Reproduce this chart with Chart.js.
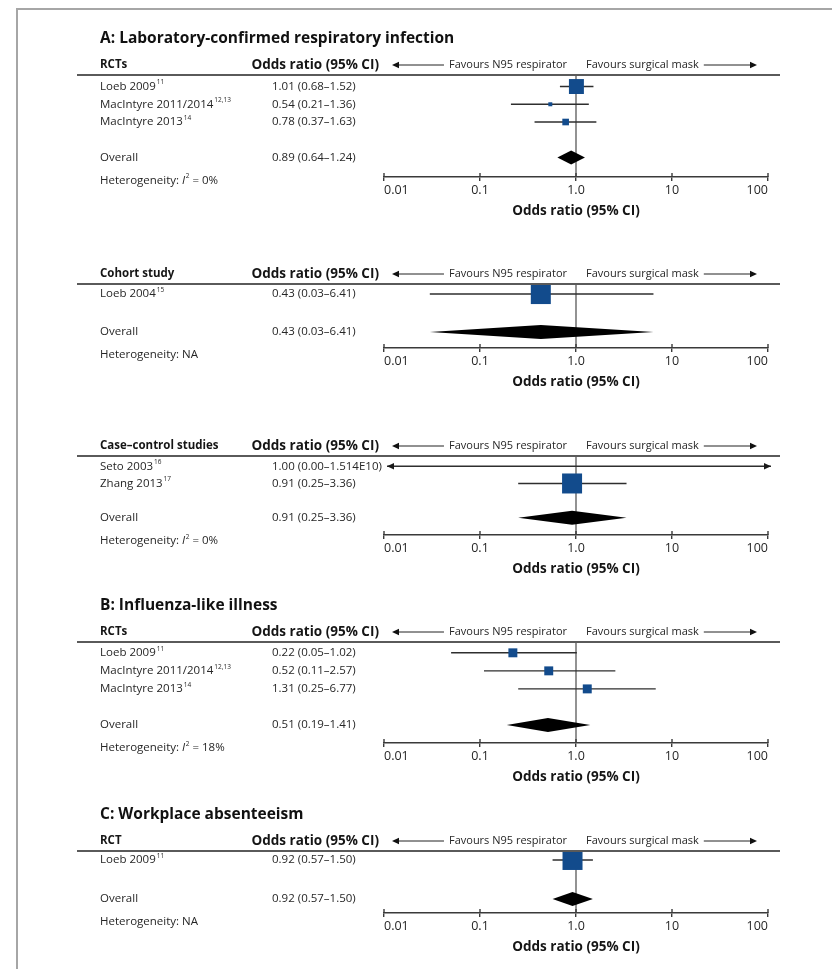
<!DOCTYPE html>
<html>
<head>
<meta charset="utf-8">
<script src="https://cdn.jsdelivr.net/npm/chart.js@4.4.1/dist/chart.umd.min.js"></script>
<style>
  html, body { margin: 0; padding: 0; background: #fff; }
  body { width: 832px; height: 969px; position: relative; overflow: hidden; }
  #frame { position: absolute; left: 16px; top: 8px; right: -10px; bottom: -10px;
           border-left: 2px solid #a6a6a6; border-top: 2px solid #a6a6a6; }
  .panel { position: absolute; left: 0; width: 832px; }
</style>
</head>
<body>
<div id="frame"></div>
<div class="panel" id="p0"><canvas></canvas></div>
<div class="panel" id="p1"><canvas></canvas></div>
<div class="panel" id="p2"><canvas></canvas></div>
<div class="panel" id="p3"><canvas></canvas></div>
<div class="panel" id="p4"><canvas></canvas></div>
<script>
// x axis
const oddsTicks = [0.01, 0.1, 1, 10, 100];
const tickLabels = ['0.01', '0.1', '1.0', '10', '100'];

// A: laboratory-confirmed respiratory infection, RCTs
const labRctNames = ['Loeb 2009', 'MacIntyre 2011/2014', 'MacIntyre 2013'];
const labRctRefs = ['11', '12,13', '14'];
const labRctOR = [1.01, 0.54, 0.78];
const labRctLow = [0.68, 0.21, 0.37];
const labRctHigh = [1.52, 1.36, 1.63];
const labRctWeight = [56, 4, 11];
const labRctOverall = [0.89, 0.64, 1.24];

// A: cohort study
const cohortNames = ['Loeb 2004'];
const cohortRefs = ['15'];
const cohortOR = [0.43];
const cohortLow = [0.03];
const cohortHigh = [6.41];
const cohortWeight = [100];
const cohortOverall = [0.43, 0.03, 6.41];

// A: case-control studies
const caseNames = ['Seto 2003', 'Zhang 2013'];
const caseRefs = ['16', '17'];
const caseOR = [1.00, 0.91];
const caseLow = [0.00, 0.25];
const caseHigh = [1.514e10, 3.36];
const caseWeight = [0, 100];
const caseOverall = [0.91, 0.25, 3.36];

// B: influenza-like illness, RCTs
const iliNames = ['Loeb 2009', 'MacIntyre 2011/2014', 'MacIntyre 2013'];
const iliRefs = ['11', '12,13', '14'];
const iliOR = [0.22, 0.52, 1.31];
const iliLow = [0.05, 0.11, 0.25];
const iliHigh = [1.02, 2.57, 6.77];
const iliWeight = [20, 20, 20];
const iliOverall = [0.51, 0.19, 1.41];

// C: workplace absenteeism, RCT
const absNames = ['Loeb 2009'];
const absRefs = ['11'];
const absOR = [0.92];
const absLow = [0.57];
const absHigh = [1.50];
const absWeight = [100];
const absOverall = [0.92, 0.57, 1.50];

const panels = [
  { title: 'A: Laboratory-confirmed respiratory infection', group: 'RCTs', names: labRctNames, refs: labRctRefs,
    or: labRctOR, low: labRctLow, high: labRctHigh, weight: labRctWeight, overall: labRctOverall, i2: 0 },
  { title: '', group: 'Cohort study', names: cohortNames, refs: cohortRefs,
    or: cohortOR, low: cohortLow, high: cohortHigh, weight: cohortWeight, overall: cohortOverall, i2: null },
  { title: '', group: 'Case–control studies', names: caseNames, refs: caseRefs,
    or: caseOR, low: caseLow, high: caseHigh, weight: caseWeight, overall: caseOverall, i2: 0 },
  { title: 'B: Influenza-like illness', group: 'RCTs', names: iliNames, refs: iliRefs,
    or: iliOR, low: iliLow, high: iliHigh, weight: iliWeight, overall: iliOverall, i2: 18 },
  { title: 'C: Workplace absenteeism', group: 'RCT', names: absNames, refs: absRefs,
    or: absOR, low: absLow, high: absHigh, weight: absWeight, overall: absOverall, i2: null }
];

// page placement of each panel: div top, header rule, axis line, row range
const placement = [
  { top: 20, line: 75, axis: 177, yMin: -0.65, yMax: 5.1 },
  { top: 250, line: 284, axis: 348, yMin: -0.53, yMax: 2.84 },
  { top: 420, line: 456, axis: 535, yMin: -0.6, yMax: 4.0 },
  { top: 585, line: 642, axis: 743, yMin: -0.6, yMax: 5.0 },
  { top: 793, line: 851, axis: 913, yMin: -0.46, yMax: 2.72 }
];

const FAMILY = '"Open Sans", "Noto Sans", sans-serif';
const AXIS_H = 46;
const TEXT = '#262626';
const font = (size, style) => (style ? style + ' ' : '') + size + 'px ' + FAMILY;

function fmt(v) {
  if (v >= 1e6) return v.toExponential(3).toUpperCase().replace('E+', 'E');
  return v.toFixed(2);
}
function ciText(or, lo, hi) {
  return fmt(or) + ' (' + fmt(lo) + '–' + fmt(hi) + ')';
}

function segment(ctx, x1, y1, x2, y2) {
  ctx.beginPath();
  ctx.moveTo(x1, y1);
  ctx.lineTo(x2, y2);
  ctx.stroke();
}
function arrowHead(ctx, x, y, dir) {
  ctx.beginPath();
  ctx.moveTo(x, y);
  ctx.lineTo(x - dir * 7, y - 3.2);
  ctx.lineTo(x - dir * 7, y + 3.2);
  ctx.closePath();
  ctx.fill();
}
function textWithRef(ctx, text, ref, x, y) {
  ctx.font = font(11.5);
  ctx.fillText(text, x, y);
  const w = ctx.measureText(text).width;
  ctx.font = font(6.5);
  ctx.fillText(ref, x + w + 1, y - 4);
}
function heterogeneity(ctx, i2, x, y) {
  ctx.font = font(11.5);
  const lead = 'Heterogeneity: ';
  ctx.fillText(lead, x, y);
  let cx = x + ctx.measureText(lead).width;
  if (i2 === null) {
    ctx.fillText('NA', cx, y);
    return;
  }
  ctx.font = font(11.5, 'italic');
  ctx.fillText('I', cx, y);
  cx += ctx.measureText('I').width + 0.5;
  ctx.font = font(6.5);
  ctx.fillText('2', cx, y - 4);
  cx += ctx.measureText('2').width;
  ctx.font = font(11.5);
  ctx.fillText(' = ' + i2 + '%', cx, y);
}

function forestPlugin(p) {
  const n = p.names.length;
  return {
    id: 'forest',
    beforeDatasetsDraw(chart) {
      const { ctx, chartArea: ca, scales: { x, y } } = chart;
      ctx.save();
      // line of no effect
      const x1 = x.getPixelForValue(1);
      ctx.strokeStyle = '#4a4a4a';
      ctx.lineWidth = 1.2;
      segment(ctx, x1, ca.top, x1, ca.bottom);
      // confidence intervals
      ctx.strokeStyle = '#2e2e2e';
      ctx.fillStyle = '#1a1a1a';
      ctx.lineWidth = 1.4;
      for (let i = 0; i < n; i++) {
        const yy = y.getPixelForValue(i);
        const clipLo = p.low[i] < x.min;
        const clipHi = p.high[i] > x.max;
        const a = clipLo ? ca.left + 3 : x.getPixelForValue(p.low[i]);
        const b = clipHi ? ca.right + 3 : x.getPixelForValue(p.high[i]);
        segment(ctx, a, yy, b, yy);
        if (clipLo) arrowHead(ctx, a, yy, -1);
        if (clipHi) arrowHead(ctx, b, yy, 1);
      }
      // tick marks above the axis line
      ctx.strokeStyle = '#3a3a3a';
      ctx.lineWidth = 1.4;
      oddsTicks.forEach(v => {
        const tx = x.getPixelForValue(v);
        segment(ctx, tx, ca.bottom - 4, tx, ca.bottom);
      });
      ctx.restore();
    },
    afterDatasetsDraw(chart) {
      const { ctx, chartArea: ca, scales: { x, y } } = chart;
      ctx.save();
      // pooled estimate
      const oy = y.getPixelForValue(n + 1);
      const [po, pl, ph] = p.overall;
      ctx.fillStyle = '#000';
      ctx.beginPath();
      ctx.moveTo(x.getPixelForValue(pl), oy);
      ctx.lineTo(x.getPixelForValue(po), oy - 7);
      ctx.lineTo(x.getPixelForValue(ph), oy);
      ctx.lineTo(x.getPixelForValue(po), oy + 7);
      ctx.closePath();
      ctx.fill();

      ctx.textBaseline = 'middle';
      ctx.textAlign = 'left';
      // title
      if (p.title) {
        ctx.fillStyle = '#111';
        ctx.font = font(15.5, 'bold');
        ctx.fillText(p.title, 100, ca.top - 36);
      }
      // header row
      const hy = ca.top - 10;
      ctx.fillStyle = '#151515';
      ctx.font = font(11.5, 'bold');
      ctx.fillText(p.group, 100, hy);
      ctx.font = font(13.5, 'bold');
      ctx.textAlign = 'right';
      ctx.fillText('Odds ratio (95% CI)', 379, hy);
      const x1 = x.getPixelForValue(1);
      ctx.font = font(11);
      ctx.fillStyle = TEXT;
      const leftTxt = 'Favours N95 respirator';
      ctx.fillText(leftTxt, x1 - 9, hy);
      const lw = ctx.measureText(leftTxt).width;
      ctx.textAlign = 'left';
      const rightTxt = 'Favours surgical mask';
      ctx.fillText(rightTxt, x1 + 10, hy);
      const rw = ctx.measureText(rightTxt).width;
      ctx.strokeStyle = '#222';
      ctx.fillStyle = '#111';
      ctx.lineWidth = 1;
      segment(ctx, x1 - 9 - lw - 5, hy, ca.left + 10, hy);
      arrowHead(ctx, ca.left + 8, hy, -1);
      segment(ctx, x1 + 10 + rw + 5, hy, ca.right - 13, hy);
      arrowHead(ctx, ca.right - 11, hy, 1);
      // header rule
      ctx.strokeStyle = '#5a5a5a';
      ctx.lineWidth = 2;
      segment(ctx, 77, ca.top, 780, ca.top);

      // study rows
      ctx.fillStyle = TEXT;
      for (let i = 0; i < n; i++) {
        const yy = y.getPixelForValue(i);
        textWithRef(ctx, p.names[i], p.refs[i], 100, yy);
        ctx.font = font(11.5);
        ctx.fillText(ciText(p.or[i], p.low[i], p.high[i]), 272, yy);
      }
      ctx.font = font(11.5);
      ctx.fillText('Overall', 100, oy);
      ctx.fillText(ciText(po, pl, ph), 272, oy);
      heterogeneity(ctx, p.i2, 100, oy + 23);
      ctx.restore();
    }
  };
}

panels.forEach((p, k) => {
  const L = placement[k];
  const box = document.getElementById('p' + k);
  box.style.top = L.top + 'px';
  box.style.height = (L.axis - L.top + AXIS_H) + 'px';
  new Chart(box.querySelector('canvas'), {
    type: 'scatter',
    data: {
      datasets: [{
        data: p.or.map((v, i) => ({ x: v, y: i })),
        pointStyle: 'rect',
        pointRadius: p.weight.map(w => Math.sqrt(w) * Math.SQRT2),
        backgroundColor: '#124b8c',
        borderWidth: 0
      }]
    },
    options: {
      responsive: true,
      maintainAspectRatio: false,
      animation: false,
      events: [],
      layout: { autoPadding: false, padding: { left: 384, right: 64, top: L.line - L.top, bottom: 0 } },
      plugins: { legend: { display: false }, tooltip: { enabled: false } },
      scales: {
        x: {
          type: 'logarithmic',
          min: 0.01,
          max: 100,
          position: 'bottom',
          afterBuildTicks: s => { s.ticks = oddsTicks.map(v => ({ value: v })); },
          afterFit: s => { s.height = AXIS_H; },
          ticks: {
            callback: (v, i) => tickLabels[i],
            align: 'inner',
            autoSkip: false,
            maxRotation: 0,
            padding: 2,
            color: TEXT,
            font: { family: FAMILY, size: 12.5 }
          },
          grid: { drawOnChartArea: false, drawTicks: true, tickLength: 4, color: '#3a3a3a', lineWidth: 1.4 },
          border: { display: true, color: '#3a3a3a', width: 1.5 },
          title: {
            display: true,
            text: 'Odds ratio (95% CI)',
            color: '#151515',
            font: { family: FAMILY, size: 13.5, weight: 'bold' },
            padding: { top: 0, bottom: 4 }
          }
        },
        y: { type: 'linear', reverse: true, min: L.yMin, max: L.yMax, display: false }
      }
    },
    plugins: [forestPlugin(p)]
  });
});
</script>
</body>
</html>
